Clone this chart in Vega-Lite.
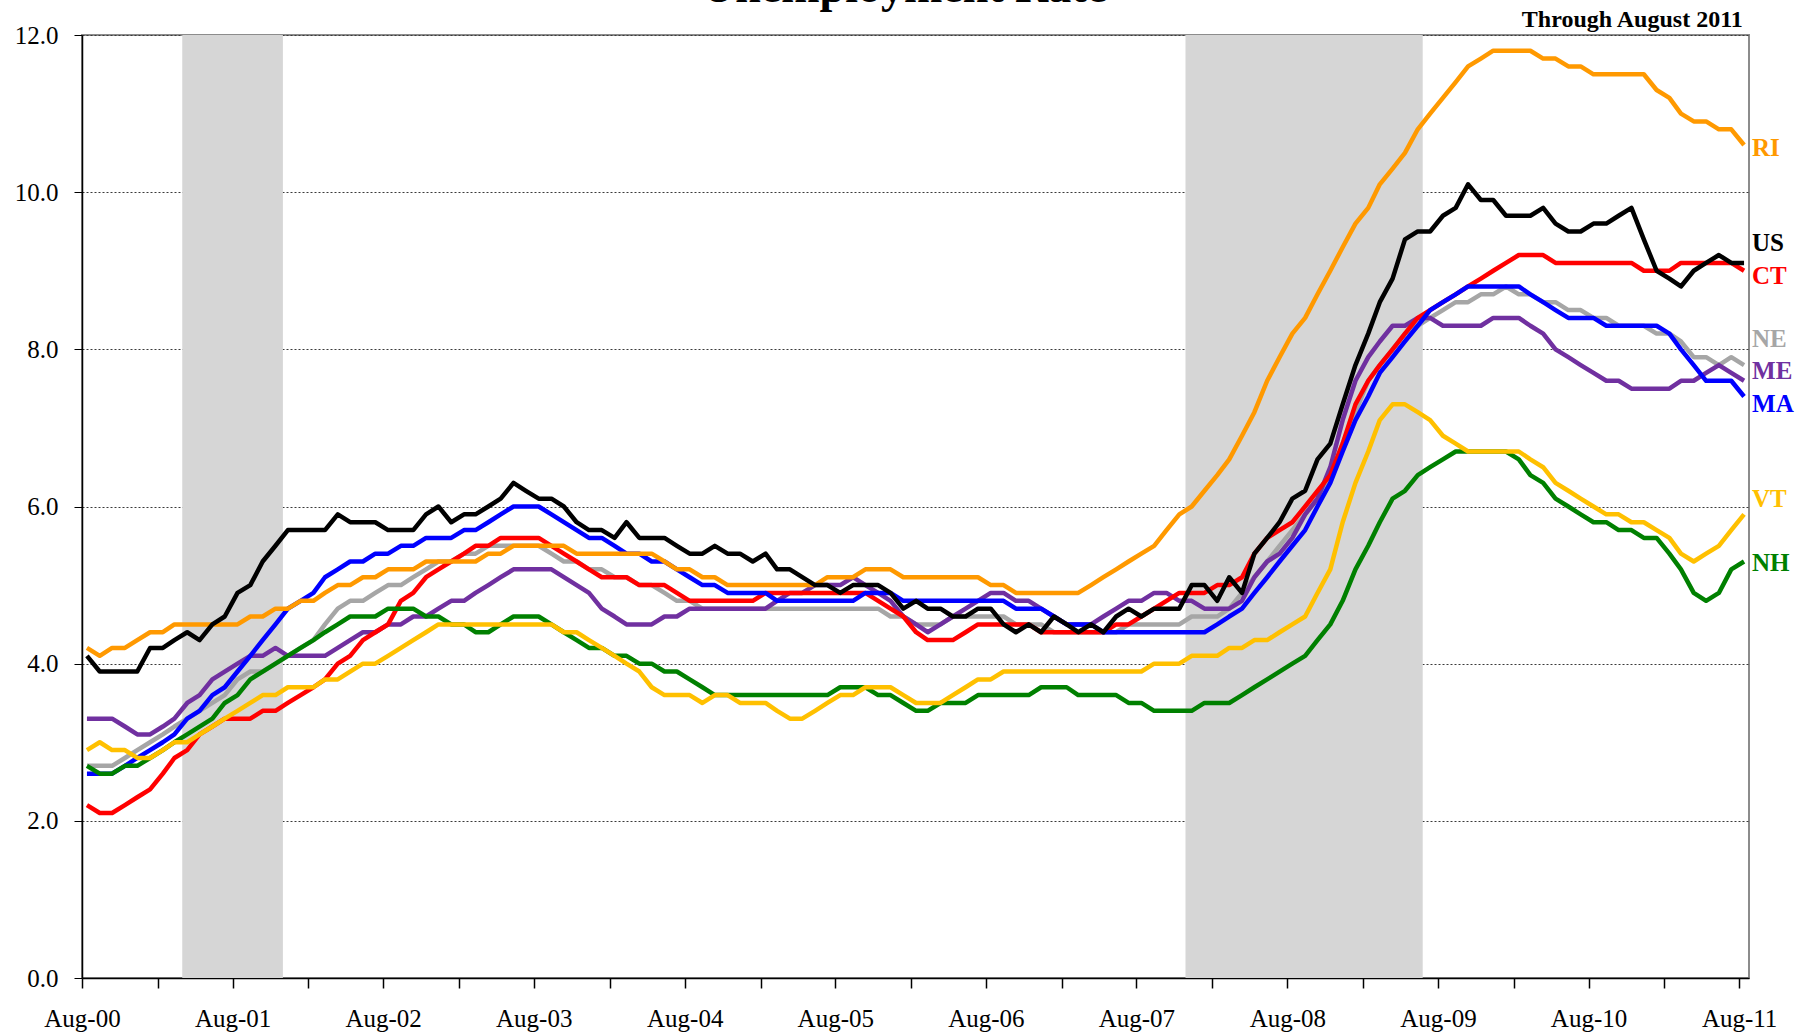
{
  "$schema": "https://vega.github.io/schema/vega-lite/v6.json",
  "width": 1667,
  "height": 943,
  "autosize": {"type": "none"},
  "padding": {"left": 82, "top": 35, "right": 59, "bottom": 56},
  "background": "white",
  "datasets": {
    "rates": [
      {"date":"2000-08-13","US":4.1,"RI":4.2,"CT":2.2,"NE":2.7,"ME":3.3,"MA":2.6,"VT":2.9,"NH":2.7},
      {"date":"2000-09-13","US":3.9,"RI":4.1,"CT":2.1,"NE":2.7,"ME":3.3,"MA":2.6,"VT":3.0,"NH":2.6},
      {"date":"2000-10-13","US":3.9,"RI":4.2,"CT":2.1,"NE":2.7,"ME":3.3,"MA":2.6,"VT":2.9,"NH":2.6},
      {"date":"2000-11-13","US":3.9,"RI":4.2,"CT":2.2,"NE":2.8,"ME":3.2,"MA":2.7,"VT":2.9,"NH":2.7},
      {"date":"2000-12-13","US":3.9,"RI":4.3,"CT":2.3,"NE":2.9,"ME":3.1,"MA":2.8,"VT":2.8,"NH":2.7},
      {"date":"2001-01-13","US":4.2,"RI":4.4,"CT":2.4,"NE":3.0,"ME":3.1,"MA":2.9,"VT":2.8,"NH":2.8},
      {"date":"2001-02-13","US":4.2,"RI":4.4,"CT":2.6,"NE":3.1,"ME":3.2,"MA":3.0,"VT":2.9,"NH":2.9},
      {"date":"2001-03-13","US":4.3,"RI":4.5,"CT":2.8,"NE":3.2,"ME":3.3,"MA":3.1,"VT":3.0,"NH":3.0},
      {"date":"2001-04-13","US":4.4,"RI":4.5,"CT":2.9,"NE":3.3,"ME":3.5,"MA":3.3,"VT":3.0,"NH":3.1},
      {"date":"2001-05-13","US":4.3,"RI":4.5,"CT":3.1,"NE":3.4,"ME":3.6,"MA":3.4,"VT":3.1,"NH":3.2},
      {"date":"2001-06-13","US":4.5,"RI":4.5,"CT":3.2,"NE":3.5,"ME":3.8,"MA":3.6,"VT":3.2,"NH":3.3},
      {"date":"2001-07-13","US":4.6,"RI":4.5,"CT":3.3,"NE":3.6,"ME":3.9,"MA":3.7,"VT":3.3,"NH":3.5},
      {"date":"2001-08-13","US":4.9,"RI":4.5,"CT":3.3,"NE":3.8,"ME":4.0,"MA":3.9,"VT":3.4,"NH":3.6},
      {"date":"2001-09-13","US":5.0,"RI":4.6,"CT":3.3,"NE":3.9,"ME":4.1,"MA":4.1,"VT":3.5,"NH":3.8},
      {"date":"2001-10-13","US":5.3,"RI":4.6,"CT":3.4,"NE":3.9,"ME":4.1,"MA":4.3,"VT":3.6,"NH":3.9},
      {"date":"2001-11-13","US":5.5,"RI":4.7,"CT":3.4,"NE":4.0,"ME":4.2,"MA":4.5,"VT":3.6,"NH":4.0},
      {"date":"2001-12-13","US":5.7,"RI":4.7,"CT":3.5,"NE":4.1,"ME":4.1,"MA":4.7,"VT":3.7,"NH":4.1},
      {"date":"2002-01-13","US":5.7,"RI":4.8,"CT":3.6,"NE":4.2,"ME":4.1,"MA":4.8,"VT":3.7,"NH":4.2},
      {"date":"2002-02-13","US":5.7,"RI":4.8,"CT":3.7,"NE":4.3,"ME":4.1,"MA":4.9,"VT":3.7,"NH":4.3},
      {"date":"2002-03-13","US":5.7,"RI":4.9,"CT":3.8,"NE":4.5,"ME":4.1,"MA":5.1,"VT":3.8,"NH":4.4},
      {"date":"2002-04-13","US":5.9,"RI":5.0,"CT":4.0,"NE":4.7,"ME":4.2,"MA":5.2,"VT":3.8,"NH":4.5},
      {"date":"2002-05-13","US":5.8,"RI":5.0,"CT":4.1,"NE":4.8,"ME":4.3,"MA":5.3,"VT":3.9,"NH":4.6},
      {"date":"2002-06-13","US":5.8,"RI":5.1,"CT":4.3,"NE":4.8,"ME":4.4,"MA":5.3,"VT":4.0,"NH":4.6},
      {"date":"2002-07-13","US":5.8,"RI":5.1,"CT":4.4,"NE":4.9,"ME":4.4,"MA":5.4,"VT":4.0,"NH":4.6},
      {"date":"2002-08-13","US":5.7,"RI":5.2,"CT":4.5,"NE":5.0,"ME":4.5,"MA":5.4,"VT":4.1,"NH":4.7},
      {"date":"2002-09-13","US":5.7,"RI":5.2,"CT":4.8,"NE":5.0,"ME":4.5,"MA":5.5,"VT":4.2,"NH":4.7},
      {"date":"2002-10-13","US":5.7,"RI":5.2,"CT":4.9,"NE":5.1,"ME":4.6,"MA":5.5,"VT":4.3,"NH":4.7},
      {"date":"2002-11-13","US":5.9,"RI":5.3,"CT":5.1,"NE":5.2,"ME":4.6,"MA":5.6,"VT":4.4,"NH":4.6},
      {"date":"2002-12-13","US":6.0,"RI":5.3,"CT":5.2,"NE":5.3,"ME":4.7,"MA":5.6,"VT":4.5,"NH":4.6},
      {"date":"2003-01-13","US":5.8,"RI":5.3,"CT":5.3,"NE":5.3,"ME":4.8,"MA":5.6,"VT":4.5,"NH":4.5},
      {"date":"2003-02-13","US":5.9,"RI":5.3,"CT":5.4,"NE":5.4,"ME":4.8,"MA":5.7,"VT":4.5,"NH":4.5},
      {"date":"2003-03-13","US":5.9,"RI":5.3,"CT":5.5,"NE":5.4,"ME":4.9,"MA":5.7,"VT":4.5,"NH":4.4},
      {"date":"2003-04-13","US":6.0,"RI":5.4,"CT":5.5,"NE":5.5,"ME":5.0,"MA":5.8,"VT":4.5,"NH":4.4},
      {"date":"2003-05-13","US":6.1,"RI":5.4,"CT":5.6,"NE":5.5,"ME":5.1,"MA":5.9,"VT":4.5,"NH":4.5},
      {"date":"2003-06-13","US":6.3,"RI":5.5,"CT":5.6,"NE":5.5,"ME":5.2,"MA":6.0,"VT":4.5,"NH":4.6},
      {"date":"2003-07-13","US":6.2,"RI":5.5,"CT":5.6,"NE":5.5,"ME":5.2,"MA":6.0,"VT":4.5,"NH":4.6},
      {"date":"2003-08-13","US":6.1,"RI":5.5,"CT":5.6,"NE":5.5,"ME":5.2,"MA":6.0,"VT":4.5,"NH":4.6},
      {"date":"2003-09-13","US":6.1,"RI":5.5,"CT":5.5,"NE":5.4,"ME":5.2,"MA":5.9,"VT":4.5,"NH":4.5},
      {"date":"2003-10-13","US":6.0,"RI":5.5,"CT":5.4,"NE":5.3,"ME":5.1,"MA":5.8,"VT":4.4,"NH":4.4},
      {"date":"2003-11-13","US":5.8,"RI":5.4,"CT":5.3,"NE":5.3,"ME":5.0,"MA":5.7,"VT":4.4,"NH":4.3},
      {"date":"2003-12-13","US":5.7,"RI":5.4,"CT":5.2,"NE":5.2,"ME":4.9,"MA":5.6,"VT":4.3,"NH":4.2},
      {"date":"2004-01-13","US":5.7,"RI":5.4,"CT":5.1,"NE":5.2,"ME":4.7,"MA":5.6,"VT":4.2,"NH":4.2},
      {"date":"2004-02-13","US":5.6,"RI":5.4,"CT":5.1,"NE":5.1,"ME":4.6,"MA":5.5,"VT":4.1,"NH":4.1},
      {"date":"2004-03-13","US":5.8,"RI":5.4,"CT":5.1,"NE":5.1,"ME":4.5,"MA":5.4,"VT":4.0,"NH":4.1},
      {"date":"2004-04-13","US":5.6,"RI":5.4,"CT":5.0,"NE":5.0,"ME":4.5,"MA":5.4,"VT":3.9,"NH":4.0},
      {"date":"2004-05-13","US":5.6,"RI":5.4,"CT":5.0,"NE":5.0,"ME":4.5,"MA":5.3,"VT":3.7,"NH":4.0},
      {"date":"2004-06-13","US":5.6,"RI":5.3,"CT":5.0,"NE":4.9,"ME":4.6,"MA":5.3,"VT":3.6,"NH":3.9},
      {"date":"2004-07-13","US":5.5,"RI":5.2,"CT":4.9,"NE":4.8,"ME":4.6,"MA":5.2,"VT":3.6,"NH":3.9},
      {"date":"2004-08-13","US":5.4,"RI":5.2,"CT":4.8,"NE":4.8,"ME":4.7,"MA":5.1,"VT":3.6,"NH":3.8},
      {"date":"2004-09-13","US":5.4,"RI":5.1,"CT":4.8,"NE":4.7,"ME":4.7,"MA":5.0,"VT":3.5,"NH":3.7},
      {"date":"2004-10-13","US":5.5,"RI":5.1,"CT":4.8,"NE":4.7,"ME":4.7,"MA":5.0,"VT":3.6,"NH":3.6},
      {"date":"2004-11-13","US":5.4,"RI":5.0,"CT":4.8,"NE":4.7,"ME":4.7,"MA":4.9,"VT":3.6,"NH":3.6},
      {"date":"2004-12-13","US":5.4,"RI":5.0,"CT":4.8,"NE":4.7,"ME":4.7,"MA":4.9,"VT":3.5,"NH":3.6},
      {"date":"2005-01-13","US":5.3,"RI":5.0,"CT":4.8,"NE":4.7,"ME":4.7,"MA":4.9,"VT":3.5,"NH":3.6},
      {"date":"2005-02-13","US":5.4,"RI":5.0,"CT":4.9,"NE":4.7,"ME":4.7,"MA":4.9,"VT":3.5,"NH":3.6},
      {"date":"2005-03-13","US":5.2,"RI":5.0,"CT":4.9,"NE":4.7,"ME":4.8,"MA":4.8,"VT":3.4,"NH":3.6},
      {"date":"2005-04-13","US":5.2,"RI":5.0,"CT":4.9,"NE":4.7,"ME":4.9,"MA":4.8,"VT":3.3,"NH":3.6},
      {"date":"2005-05-13","US":5.1,"RI":5.0,"CT":4.9,"NE":4.7,"ME":4.9,"MA":4.8,"VT":3.3,"NH":3.6},
      {"date":"2005-06-13","US":5.0,"RI":5.0,"CT":4.9,"NE":4.7,"ME":5.0,"MA":4.8,"VT":3.4,"NH":3.6},
      {"date":"2005-07-13","US":5.0,"RI":5.1,"CT":4.9,"NE":4.7,"ME":5.0,"MA":4.8,"VT":3.5,"NH":3.6},
      {"date":"2005-08-13","US":4.9,"RI":5.1,"CT":4.9,"NE":4.7,"ME":5.0,"MA":4.8,"VT":3.6,"NH":3.7},
      {"date":"2005-09-13","US":5.0,"RI":5.1,"CT":4.9,"NE":4.7,"ME":5.1,"MA":4.8,"VT":3.6,"NH":3.7},
      {"date":"2005-10-13","US":5.0,"RI":5.2,"CT":4.9,"NE":4.7,"ME":5.0,"MA":4.9,"VT":3.7,"NH":3.7},
      {"date":"2005-11-13","US":5.0,"RI":5.2,"CT":4.8,"NE":4.7,"ME":4.9,"MA":4.9,"VT":3.7,"NH":3.6},
      {"date":"2005-12-13","US":4.9,"RI":5.2,"CT":4.7,"NE":4.6,"ME":4.8,"MA":4.9,"VT":3.7,"NH":3.6},
      {"date":"2006-01-13","US":4.7,"RI":5.1,"CT":4.6,"NE":4.6,"ME":4.6,"MA":4.8,"VT":3.6,"NH":3.5},
      {"date":"2006-02-13","US":4.8,"RI":5.1,"CT":4.4,"NE":4.5,"ME":4.5,"MA":4.8,"VT":3.5,"NH":3.4},
      {"date":"2006-03-13","US":4.7,"RI":5.1,"CT":4.3,"NE":4.5,"ME":4.4,"MA":4.8,"VT":3.5,"NH":3.4},
      {"date":"2006-04-13","US":4.7,"RI":5.1,"CT":4.3,"NE":4.5,"ME":4.5,"MA":4.8,"VT":3.5,"NH":3.5},
      {"date":"2006-05-13","US":4.6,"RI":5.1,"CT":4.3,"NE":4.6,"ME":4.6,"MA":4.8,"VT":3.6,"NH":3.5},
      {"date":"2006-06-13","US":4.6,"RI":5.1,"CT":4.4,"NE":4.6,"ME":4.7,"MA":4.8,"VT":3.7,"NH":3.5},
      {"date":"2006-07-13","US":4.7,"RI":5.1,"CT":4.5,"NE":4.6,"ME":4.8,"MA":4.8,"VT":3.8,"NH":3.6},
      {"date":"2006-08-13","US":4.7,"RI":5.0,"CT":4.5,"NE":4.6,"ME":4.9,"MA":4.8,"VT":3.8,"NH":3.6},
      {"date":"2006-09-13","US":4.5,"RI":5.0,"CT":4.5,"NE":4.6,"ME":4.9,"MA":4.8,"VT":3.9,"NH":3.6},
      {"date":"2006-10-13","US":4.4,"RI":4.9,"CT":4.5,"NE":4.5,"ME":4.8,"MA":4.7,"VT":3.9,"NH":3.6},
      {"date":"2006-11-13","US":4.5,"RI":4.9,"CT":4.5,"NE":4.5,"ME":4.8,"MA":4.7,"VT":3.9,"NH":3.6},
      {"date":"2006-12-13","US":4.4,"RI":4.9,"CT":4.4,"NE":4.5,"ME":4.7,"MA":4.7,"VT":3.9,"NH":3.7},
      {"date":"2007-01-13","US":4.6,"RI":4.9,"CT":4.4,"NE":4.4,"ME":4.6,"MA":4.6,"VT":3.9,"NH":3.7},
      {"date":"2007-02-13","US":4.5,"RI":4.9,"CT":4.4,"NE":4.4,"ME":4.5,"MA":4.5,"VT":3.9,"NH":3.7},
      {"date":"2007-03-13","US":4.4,"RI":4.9,"CT":4.4,"NE":4.4,"ME":4.5,"MA":4.5,"VT":3.9,"NH":3.6},
      {"date":"2007-04-13","US":4.5,"RI":5.0,"CT":4.4,"NE":4.4,"ME":4.5,"MA":4.5,"VT":3.9,"NH":3.6},
      {"date":"2007-05-13","US":4.4,"RI":5.1,"CT":4.4,"NE":4.4,"ME":4.6,"MA":4.4,"VT":3.9,"NH":3.6},
      {"date":"2007-06-13","US":4.6,"RI":5.2,"CT":4.5,"NE":4.4,"ME":4.7,"MA":4.4,"VT":3.9,"NH":3.6},
      {"date":"2007-07-13","US":4.7,"RI":5.3,"CT":4.5,"NE":4.5,"ME":4.8,"MA":4.4,"VT":3.9,"NH":3.5},
      {"date":"2007-08-13","US":4.6,"RI":5.4,"CT":4.6,"NE":4.5,"ME":4.8,"MA":4.4,"VT":3.9,"NH":3.5},
      {"date":"2007-09-13","US":4.7,"RI":5.5,"CT":4.7,"NE":4.5,"ME":4.9,"MA":4.4,"VT":4.0,"NH":3.4},
      {"date":"2007-10-13","US":4.7,"RI":5.7,"CT":4.8,"NE":4.5,"ME":4.9,"MA":4.4,"VT":4.0,"NH":3.4},
      {"date":"2007-11-13","US":4.7,"RI":5.9,"CT":4.9,"NE":4.5,"ME":4.8,"MA":4.4,"VT":4.0,"NH":3.4},
      {"date":"2007-12-13","US":5.0,"RI":6.0,"CT":4.9,"NE":4.6,"ME":4.8,"MA":4.4,"VT":4.1,"NH":3.4},
      {"date":"2008-01-13","US":5.0,"RI":6.2,"CT":4.9,"NE":4.6,"ME":4.7,"MA":4.4,"VT":4.1,"NH":3.5},
      {"date":"2008-02-13","US":4.8,"RI":6.4,"CT":5.0,"NE":4.6,"ME":4.7,"MA":4.5,"VT":4.1,"NH":3.5},
      {"date":"2008-03-13","US":5.1,"RI":6.6,"CT":5.0,"NE":4.7,"ME":4.7,"MA":4.6,"VT":4.2,"NH":3.5},
      {"date":"2008-04-13","US":4.9,"RI":6.9,"CT":5.1,"NE":4.9,"ME":4.8,"MA":4.7,"VT":4.2,"NH":3.6},
      {"date":"2008-05-13","US":5.4,"RI":7.2,"CT":5.4,"NE":5.1,"ME":5.1,"MA":4.9,"VT":4.3,"NH":3.7},
      {"date":"2008-06-13","US":5.6,"RI":7.6,"CT":5.6,"NE":5.3,"ME":5.3,"MA":5.1,"VT":4.3,"NH":3.8},
      {"date":"2008-07-13","US":5.8,"RI":7.9,"CT":5.7,"NE":5.5,"ME":5.4,"MA":5.3,"VT":4.4,"NH":3.9},
      {"date":"2008-08-13","US":6.1,"RI":8.2,"CT":5.8,"NE":5.7,"ME":5.6,"MA":5.5,"VT":4.5,"NH":4.0},
      {"date":"2008-09-13","US":6.2,"RI":8.4,"CT":6.0,"NE":5.9,"ME":5.9,"MA":5.7,"VT":4.6,"NH":4.1},
      {"date":"2008-10-13","US":6.6,"RI":8.7,"CT":6.2,"NE":6.1,"ME":6.1,"MA":6.0,"VT":4.9,"NH":4.3},
      {"date":"2008-11-13","US":6.8,"RI":9.0,"CT":6.4,"NE":6.4,"ME":6.5,"MA":6.3,"VT":5.2,"NH":4.5},
      {"date":"2008-12-13","US":7.3,"RI":9.3,"CT":6.8,"NE":6.8,"ME":7.1,"MA":6.7,"VT":5.8,"NH":4.8},
      {"date":"2009-01-13","US":7.8,"RI":9.6,"CT":7.3,"NE":7.2,"ME":7.6,"MA":7.1,"VT":6.3,"NH":5.2},
      {"date":"2009-02-13","US":8.2,"RI":9.8,"CT":7.6,"NE":7.6,"ME":7.9,"MA":7.4,"VT":6.7,"NH":5.5},
      {"date":"2009-03-13","US":8.6,"RI":10.1,"CT":7.8,"NE":7.8,"ME":8.1,"MA":7.7,"VT":7.1,"NH":5.8},
      {"date":"2009-04-13","US":8.9,"RI":10.3,"CT":8.0,"NE":8.0,"ME":8.3,"MA":7.9,"VT":7.3,"NH":6.1},
      {"date":"2009-05-13","US":9.4,"RI":10.5,"CT":8.2,"NE":8.2,"ME":8.3,"MA":8.1,"VT":7.3,"NH":6.2},
      {"date":"2009-06-13","US":9.5,"RI":10.8,"CT":8.4,"NE":8.3,"ME":8.4,"MA":8.3,"VT":7.2,"NH":6.4},
      {"date":"2009-07-13","US":9.5,"RI":11.0,"CT":8.5,"NE":8.4,"ME":8.4,"MA":8.5,"VT":7.1,"NH":6.5},
      {"date":"2009-08-13","US":9.7,"RI":11.2,"CT":8.6,"NE":8.5,"ME":8.3,"MA":8.6,"VT":6.9,"NH":6.6},
      {"date":"2009-09-13","US":9.8,"RI":11.4,"CT":8.7,"NE":8.6,"ME":8.3,"MA":8.7,"VT":6.8,"NH":6.7},
      {"date":"2009-10-13","US":10.1,"RI":11.6,"CT":8.8,"NE":8.6,"ME":8.3,"MA":8.8,"VT":6.7,"NH":6.7},
      {"date":"2009-11-13","US":9.9,"RI":11.7,"CT":8.9,"NE":8.7,"ME":8.3,"MA":8.8,"VT":6.7,"NH":6.7},
      {"date":"2009-12-13","US":9.9,"RI":11.8,"CT":9.0,"NE":8.7,"ME":8.4,"MA":8.8,"VT":6.7,"NH":6.7},
      {"date":"2010-01-13","US":9.7,"RI":11.8,"CT":9.1,"NE":8.8,"ME":8.4,"MA":8.8,"VT":6.7,"NH":6.7},
      {"date":"2010-02-13","US":9.7,"RI":11.8,"CT":9.2,"NE":8.7,"ME":8.4,"MA":8.8,"VT":6.7,"NH":6.6},
      {"date":"2010-03-13","US":9.7,"RI":11.8,"CT":9.2,"NE":8.7,"ME":8.3,"MA":8.7,"VT":6.6,"NH":6.4},
      {"date":"2010-04-13","US":9.8,"RI":11.7,"CT":9.2,"NE":8.6,"ME":8.2,"MA":8.6,"VT":6.5,"NH":6.3},
      {"date":"2010-05-13","US":9.6,"RI":11.7,"CT":9.1,"NE":8.6,"ME":8.0,"MA":8.5,"VT":6.3,"NH":6.1},
      {"date":"2010-06-13","US":9.5,"RI":11.6,"CT":9.1,"NE":8.5,"ME":7.9,"MA":8.4,"VT":6.2,"NH":6.0},
      {"date":"2010-07-13","US":9.5,"RI":11.6,"CT":9.1,"NE":8.5,"ME":7.8,"MA":8.4,"VT":6.1,"NH":5.9},
      {"date":"2010-08-13","US":9.6,"RI":11.5,"CT":9.1,"NE":8.4,"ME":7.7,"MA":8.4,"VT":6.0,"NH":5.8},
      {"date":"2010-09-13","US":9.6,"RI":11.5,"CT":9.1,"NE":8.4,"ME":7.6,"MA":8.3,"VT":5.9,"NH":5.8},
      {"date":"2010-10-13","US":9.7,"RI":11.5,"CT":9.1,"NE":8.3,"ME":7.6,"MA":8.3,"VT":5.9,"NH":5.7},
      {"date":"2010-11-13","US":9.8,"RI":11.5,"CT":9.1,"NE":8.3,"ME":7.5,"MA":8.3,"VT":5.8,"NH":5.7},
      {"date":"2010-12-13","US":9.4,"RI":11.5,"CT":9.0,"NE":8.3,"ME":7.5,"MA":8.3,"VT":5.8,"NH":5.6},
      {"date":"2011-01-13","US":9.0,"RI":11.3,"CT":9.0,"NE":8.2,"ME":7.5,"MA":8.3,"VT":5.7,"NH":5.6},
      {"date":"2011-02-13","US":8.9,"RI":11.2,"CT":9.0,"NE":8.2,"ME":7.5,"MA":8.2,"VT":5.6,"NH":5.4},
      {"date":"2011-03-13","US":8.8,"RI":11.0,"CT":9.1,"NE":8.1,"ME":7.6,"MA":8.0,"VT":5.4,"NH":5.2},
      {"date":"2011-04-13","US":9.0,"RI":10.9,"CT":9.1,"NE":7.9,"ME":7.6,"MA":7.8,"VT":5.3,"NH":4.9},
      {"date":"2011-05-13","US":9.1,"RI":10.9,"CT":9.1,"NE":7.9,"ME":7.7,"MA":7.6,"VT":5.4,"NH":4.8},
      {"date":"2011-06-13","US":9.2,"RI":10.8,"CT":9.1,"NE":7.8,"ME":7.8,"MA":7.6,"VT":5.5,"NH":4.9},
      {"date":"2011-07-13","US":9.1,"RI":10.8,"CT":9.1,"NE":7.9,"ME":7.7,"MA":7.6,"VT":5.7,"NH":5.2},
      {"date":"2011-08-13","US":9.1,"RI":10.6,"CT":9.0,"NE":7.8,"ME":7.6,"MA":7.4,"VT":5.9,"NH":5.3}
    ],
    "recessions": [
      {"start":"2001-04-01","end":"2001-12-01"},
      {"start":"2007-11-28","end":"2009-06-25"}
    ],
    "labels": [
      {"series":"RI","date":"2011-08-13","at":10.56},
      {"series":"US","date":"2011-08-13","at":9.35},
      {"series":"CT","date":"2011-08-13","at":8.93},
      {"series":"NE","date":"2011-08-13","at":8.13},
      {"series":"ME","date":"2011-08-13","at":7.72},
      {"series":"MA","date":"2011-08-13","at":7.31},
      {"series":"VT","date":"2011-08-13","at":6.09},
      {"series":"NH","date":"2011-08-13","at":5.28}
    ],
    "note": [
      {"text":"Through August 2011","date":"2011-08-10","at":12}
    ],
    "heading": [
      {"text":"Unemployment Rate","date":"2006-01-16","at":12}
    ]
  },
  "config": {
    "view": {"stroke": "#8c8c8c", "strokeWidth": 2},
    "font": "Liberation Serif"
  },
  "layer": [
    {
      "data": {"name": "recessions"},
      "mark": {"type": "rect", "color": "#D6D6D6"},
      "encoding": {
        "x": {"field": "start", "type": "temporal", "scale": {"type": "utc"}},
        "x2": {"field": "end"},
        "y": {"datum": 0, "type": "quantitative"},
        "y2": {"datum": 12}
      }
    },
    {
      "data": {"name": "rates"},
      "transform": [{"fold": ["NE","ME","CT","MA","NH","VT","RI","US"], "as": ["series","value"]}],
      "mark": {"type": "line", "strokeJoin": "round", "strokeCap": "butt"},
      "encoding": {
        "x": {
          "field": "date", "type": "temporal",
          "scale": {"type": "utc", "domain": [{"year":2000,"month":8,"date":1,"utc":true},{"year":2011,"month":8,"date":25,"utc":true}]},
          "axis": {
            "title": null,
            "grid": false,
            "values": [
              {"year":2000,"month":8,"date":1,"utc":true},{"year":2001,"month":2,"date":1,"utc":true},
              {"year":2001,"month":8,"date":1,"utc":true},{"year":2002,"month":2,"date":1,"utc":true},
              {"year":2002,"month":8,"date":1,"utc":true},{"year":2003,"month":2,"date":1,"utc":true},
              {"year":2003,"month":8,"date":1,"utc":true},{"year":2004,"month":2,"date":1,"utc":true},
              {"year":2004,"month":8,"date":1,"utc":true},{"year":2005,"month":2,"date":1,"utc":true},
              {"year":2005,"month":8,"date":1,"utc":true},{"year":2006,"month":2,"date":1,"utc":true},
              {"year":2006,"month":8,"date":1,"utc":true},{"year":2007,"month":2,"date":1,"utc":true},
              {"year":2007,"month":8,"date":1,"utc":true},{"year":2008,"month":2,"date":1,"utc":true},
              {"year":2008,"month":8,"date":1,"utc":true},{"year":2009,"month":2,"date":1,"utc":true},
              {"year":2009,"month":8,"date":1,"utc":true},{"year":2010,"month":2,"date":1,"utc":true},
              {"year":2010,"month":8,"date":1,"utc":true},{"year":2011,"month":2,"date":1,"utc":true},
              {"year":2011,"month":8,"date":1,"utc":true}
            ],
            "labelExpr": "utcmonth(datum.value) == 7 ? utcFormat(datum.value, '%b-%y') : ''",
            "labelFont": "Liberation Serif",
            "labelFontSize": 25,
            "labelColor": "black",
            "labelFlush": false,
            "labelOverlap": false,
            "labelPadding": 18,
            "tickSize": 10,
            "tickColor": "black",
            "tickWidth": 1.5,
            "domainColor": "black",
            "domainWidth": 1.5
          }
        },
        "y": {
          "field": "value", "type": "quantitative",
          "scale": {"domain": [0, 12], "nice": false, "zero": true},
          "axis": {
            "title": null,
            "values": [0, 2, 4, 6, 8, 10, 12],
            "format": ".1f",
            "grid": true,
            "gridColor": "#3a3a3a",
            "gridDash": [2, 2],
            "gridWidth": 1,
            "labelFont": "Liberation Serif",
            "labelFontSize": 25,
            "labelColor": "black",
            "labelPadding": 16,
            "tickSize": 8,
            "tickColor": "black",
            "tickWidth": 1,
            "domainColor": "black",
            "domainWidth": 1.5
          }
        },
        "color": {
          "field": "series", "type": "nominal",
          "scale": {"domain": ["NE","ME","CT","MA","NH","VT","RI","US"], "range": ["#A6A6A6","#7030A0","#FF0000","#0000FF","#008000","#FFC000","#FF9900","#000000"]},
          "legend": null
        },
        "strokeWidth": {
          "field": "series", "type": "ordinal",
          "scale": {"domain": ["NE","ME","CT","MA","NH","VT","RI","US"], "range": [4.5,4.5,4.5,4.5,4.5,2.6,4.5,4.5]},
          "legend": null
        }
      }
    },
    {
      "data": {"name": "labels"},
      "mark": {"type": "text", "align": "left", "baseline": "middle", "dx": 8, "font": "Liberation Serif", "fontSize": 25, "fontWeight": "bold"},
      "encoding": {
        "x": {"field": "date", "type": "temporal", "scale": {"type": "utc"}},
        "y": {"field": "at", "type": "quantitative"},
        "text": {"field": "series"},
        "color": {"field": "series", "type": "nominal", "legend": null}
      }
    },
    {
      "data": {"name": "note"},
      "mark": {"type": "text", "align": "right", "baseline": "alphabetic", "dy": -8, "font": "Liberation Serif", "fontSize": 24, "fontWeight": "bold", "color": "black"},
      "encoding": {
        "x": {"field": "date", "type": "temporal", "scale": {"type": "utc"}},
        "y": {"field": "at", "type": "quantitative"},
        "text": {"field": "text"}
      }
    },
    {
      "data": {"name": "heading"},
      "mark": {"type": "text", "align": "center", "baseline": "alphabetic", "dy": -33, "font": "Liberation Serif", "fontSize": 46, "fontWeight": "bold", "color": "black"},
      "encoding": {
        "x": {"field": "date", "type": "temporal", "scale": {"type": "utc"}},
        "y": {"field": "at", "type": "quantitative"},
        "text": {"field": "text"}
      }
    }
  ]
}
